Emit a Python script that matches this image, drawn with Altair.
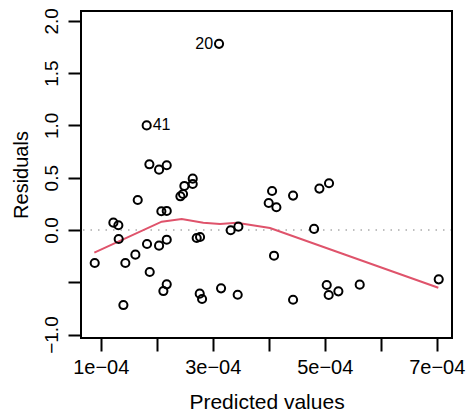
import altair as alt
import pandas as pd

# Predicted (fitted) values and residuals
predicted = [0.893e-4, 1.226e-4, 1.315e-4, 1.321e-4, 1.440e-4, 1.405e-4, 1.619e-4, 1.661e-4,
             1.821e-4, 1.869e-4, 1.827e-4, 1.875e-4, 2.042e-4, 2.179e-4, 2.083e-4, 2.179e-4,
             2.042e-4, 2.179e-4, 2.179e-4, 2.119e-4, 2.423e-4, 2.470e-4, 2.494e-4, 2.643e-4,
             2.643e-4, 2.714e-4, 2.774e-4, 2.768e-4, 2.810e-4, 3.113e-4, 3.149e-4, 3.321e-4,
             3.458e-4, 3.446e-4, 4.000e-4, 4.060e-4, 4.137e-4, 4.095e-4, 4.435e-4, 4.435e-4,
             4.810e-4, 4.905e-4, 5.077e-4, 5.036e-4, 5.071e-4, 5.244e-4, 5.625e-4, 7.036e-4]
residuals = [-0.316, 0.070, 0.045, -0.086, -0.316, -0.718, -0.236, 0.287,
             1.000, 0.628, -0.134, -0.402, 0.577, 0.619, 0.179, 0.182,
             -0.150, -0.093, -0.520, -0.584, 0.322, 0.344, 0.421, 0.491,
             0.440, -0.077, -0.067, -0.609, -0.660, 1.780, -0.558, -0.003,
             0.032, -0.619, 0.258, 0.373, 0.217, -0.246, 0.329, -0.667,
             0.010, 0.396, 0.447, -0.526, -0.622, -0.587, -0.523, -0.472]
point_ids = [""] * len(predicted)
point_ids[8] = "41"
point_ids[29] = "20"
label_side = {"41": "right", "20": "left"}

# Smoothed (lowess) curve
smooth_x = [0.886e-4, 2.089e-4, 2.446e-4, 2.832e-4, 3.130e-4, 3.429e-4, 4.023e-4, 7.029e-4]
smooth_y = [-0.217, 0.079, 0.105, 0.070, 0.057, 0.070, 0.019, -0.552]

x_ticks = [1e-4, 2e-4, 3e-4, 4e-4, 5e-4, 6e-4, 7e-4]
x_tick_labels = ["", "1e\u221204", "", "3e\u221204", "", "5e\u221204", "", "7e\u221204"]
y_ticks = [-1.0, -0.5, 0.0, 0.5, 1.0, 1.5, 2.0]

x_domain = [0.648e-4, 7.273e-4]
y_domain = [-1.033, 2.094]

FONT = "Liberation Sans"
W, H = 371, 327

df = pd.DataFrame({"pred": predicted, "resid": residuals, "id": point_ids})
df["side"] = df["id"].map(lambda s: label_side.get(s, ""))
smooth = pd.DataFrame({"x": smooth_x, "y": smooth_y})

label_js = "[" + ",".join("'" + s + "'" for s in x_tick_labels) + "]"

x_enc = alt.X(
    "pred:Q",
    scale=alt.Scale(domain=x_domain, nice=False, zero=False),
    axis=alt.Axis(
        title="Predicted values", values=x_ticks, grid=False, domain=False,
        labelExpr=label_js + "[round(datum.value*10000)]",
        labelFontSize=20, labelFont=FONT, labelColor="black", labelPadding=6,
        labelFlush=False, labelOverlap=False, labelBound=False,
        tickSize=13, tickWidth=2, tickColor="black",
        titleFontSize=21, titleFont=FONT, titleFontWeight="normal", titleColor="black",
        titlePadding=14,
    ),
)
y_enc = alt.Y(
    "resid:Q",
    scale=alt.Scale(domain=y_domain, nice=False, zero=False),
    axis=alt.Axis(
        title="Residuals", values=y_ticks, grid=False, domain=False,
        labelExpr="datum.value == -0.5 ? '' : format(datum.value, '.1f')",
        labelAngle=270, labelAlign="center", labelBaseline="alphabetic",
        labelFontSize=19, labelFont=FONT, labelColor="black", labelPadding=11,
        labelFlush=False, labelOverlap=False, labelBound=False,
        tickSize=13, tickWidth=2, tickColor="black",
        titleFontSize=20, titleFont=FONT, titleFontWeight="normal", titleColor="black",
        titlePadding=11,
    ),
)

base = alt.Chart(df)

zero_line = alt.Chart(pd.DataFrame({"z": [0.0]})).mark_rule(
    color="#AAAAAA", strokeWidth=1.3, strokeDash=[1.5, 6]
).encode(y=alt.Y("z:Q", scale=alt.Scale(domain=y_domain, nice=False, zero=False)))

points = base.mark_point(
    shape="circle", filled=False, color="black", strokeWidth=2, size=66, opacity=1
).encode(x=x_enc, y=y_enc)

smooth_line = alt.Chart(smooth).mark_line(color="#DF536B", strokeWidth=2).encode(
    x=alt.X("x:Q", scale=alt.Scale(domain=x_domain, nice=False, zero=False)),
    y=alt.Y("y:Q", scale=alt.Scale(domain=y_domain, nice=False, zero=False)),
)

lab_right = base.transform_filter("datum.side == 'right'").mark_text(
    align="left", baseline="middle", dx=6, fontSize=16, font=FONT, color="black"
).encode(x="pred:Q", y="resid:Q", text="id:N")
lab_left = base.transform_filter("datum.side == 'left'").mark_text(
    align="right", baseline="middle", dx=-6, fontSize=16, font=FONT, color="black"
).encode(x="pred:Q", y="resid:Q", text="id:N")

frame = alt.Chart(pd.DataFrame({"f": [0]})).mark_rect(
    filled=False, stroke="black", strokeWidth=2, fill=None
).encode(x=alt.value(0), x2=alt.value(W), y=alt.value(0), y2=alt.value(H))

chart = alt.layer(zero_line, smooth_line, points, lab_right, lab_left, frame).properties(
    width=W, height=H,
    autosize=alt.AutoSizeParams(type="none"),
    padding={"left": 81, "top": 11, "right": 21, "bottom": 77},
    background="white",
).configure_view(strokeWidth=0)

chart.save("out.html", embed_options={"renderer": "svg", "actions": False})
